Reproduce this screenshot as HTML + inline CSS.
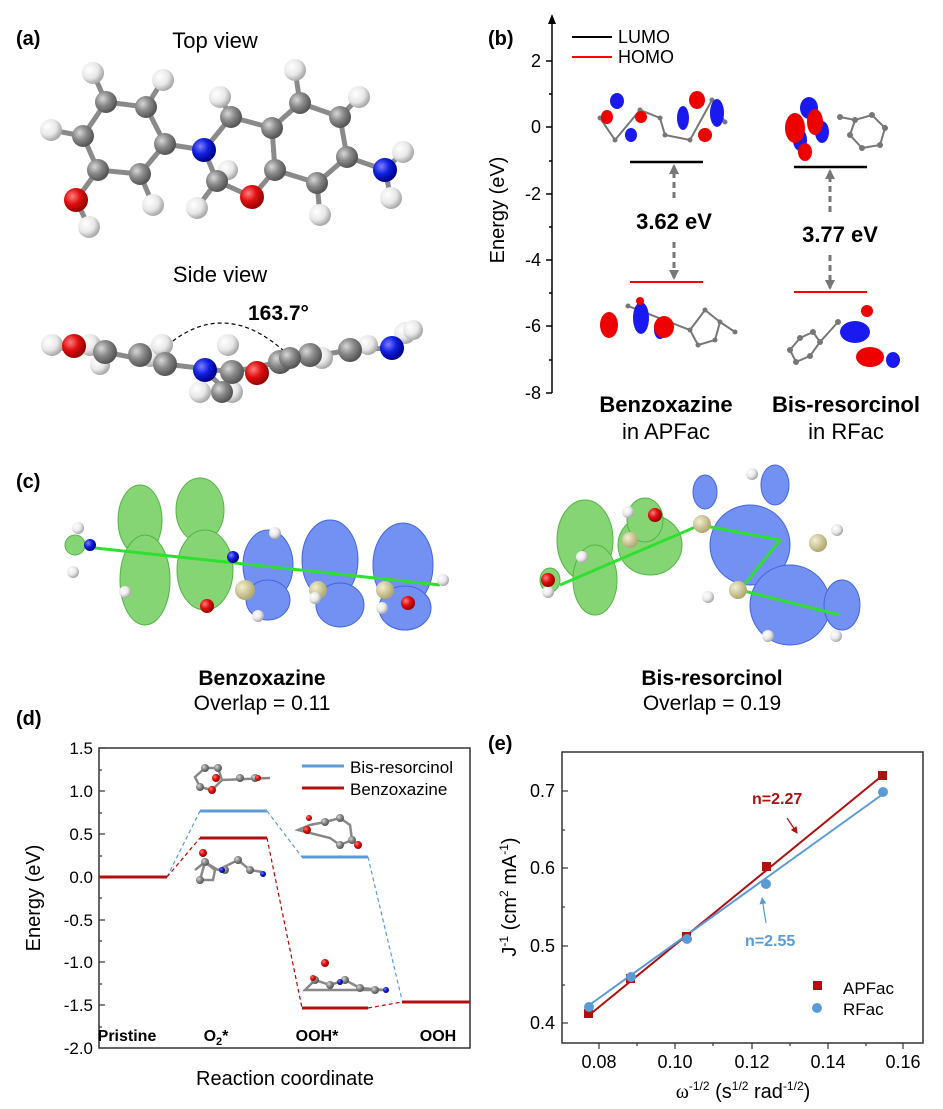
<!DOCTYPE html>
<html><head><meta charset="utf-8"><style>
html,body{margin:0;padding:0;background:#fff;}
svg{display:block;font-family:"Liberation Sans",Arial,sans-serif;}
</style></head><body>
<svg width="943" height="1109" viewBox="0 0 943 1109" xmlns="http://www.w3.org/2000/svg">
<defs>
<radialGradient id="gC" cx="35%" cy="35%" r="65%"><stop offset="0" stop-color="#d8d8d8"/><stop offset="0.5" stop-color="#8a8a8a"/><stop offset="1" stop-color="#555"/></radialGradient>
<radialGradient id="gH" cx="35%" cy="35%" r="65%"><stop offset="0" stop-color="#fff"/><stop offset="0.6" stop-color="#e8e8e8"/><stop offset="1" stop-color="#aaa"/></radialGradient>
<radialGradient id="gO" cx="35%" cy="35%" r="65%"><stop offset="0" stop-color="#ff8080"/><stop offset="0.5" stop-color="#e01010"/><stop offset="1" stop-color="#900"/></radialGradient>
<radialGradient id="gN" cx="35%" cy="35%" r="65%"><stop offset="0" stop-color="#8080ff"/><stop offset="0.5" stop-color="#1020e0"/><stop offset="1" stop-color="#008"/></radialGradient>
<radialGradient id="gY" cx="35%" cy="35%" r="65%"><stop offset="0" stop-color="#f4f0d0"/><stop offset="1" stop-color="#b0a870"/></radialGradient>
<marker id="ag" markerUnits="userSpaceOnUse" markerWidth="10" markerHeight="10" refX="8" refY="5" orient="auto"><path d="M0,0 L10,5 L0,10 z" fill="#777"/></marker>
<marker id="ar" markerUnits="userSpaceOnUse" markerWidth="7" markerHeight="7" refX="6" refY="3.5" orient="auto"><path d="M0,0 L7,3.5 L0,7 z" fill="#b01010"/></marker>
<marker id="ab" markerUnits="userSpaceOnUse" markerWidth="7" markerHeight="7" refX="6" refY="3.5" orient="auto"><path d="M0,0 L7,3.5 L0,7 z" fill="#5b9bd5"/></marker>
</defs>

<!-- (a) -->
<text x="16" y="45" font-size="20" font-weight="bold">(a)</text>
<text x="215" y="48" font-size="22" text-anchor="middle">Top view</text>
<g stroke="#8a8a8a" stroke-width="5" stroke-linecap="round">
<line x1="106" y1="102" x2="146" y2="107"/><line x1="106" y1="102" x2="83" y2="136"/><line x1="83" y1="136" x2="98" y2="170"/>
<line x1="98" y1="170" x2="140" y2="174"/><line x1="140" y1="174" x2="165" y2="144"/><line x1="165" y1="144" x2="146" y2="107"/>
<line x1="165" y1="144" x2="204" y2="150"/><line x1="204" y1="150" x2="231" y2="117"/><line x1="204" y1="150" x2="217" y2="181"/>
<line x1="231" y1="117" x2="272" y2="128"/><line x1="272" y1="128" x2="275" y2="170"/><line x1="275" y1="170" x2="252" y2="197"/>
<line x1="252" y1="197" x2="217" y2="181"/><line x1="272" y1="128" x2="300" y2="103"/><line x1="300" y1="103" x2="340" y2="117"/>
<line x1="340" y1="117" x2="347" y2="157"/><line x1="347" y1="157" x2="317" y2="183"/><line x1="317" y1="183" x2="275" y2="170"/>
<line x1="347" y1="157" x2="385" y2="170"/><line x1="98" y1="170" x2="76" y2="200"/>
<line x1="106" y1="102" x2="93" y2="73"/><line x1="146" y1="107" x2="163" y2="80"/><line x1="83" y1="136" x2="51" y2="130"/>
<line x1="140" y1="174" x2="153" y2="205"/><line x1="76" y1="200" x2="89" y2="227"/><line x1="300" y1="103" x2="295" y2="70"/>
<line x1="340" y1="117" x2="359" y2="97"/><line x1="317" y1="183" x2="320" y2="215"/><line x1="385" y1="170" x2="403" y2="152"/>
<line x1="385" y1="170" x2="391" y2="198"/><line x1="217" y1="181" x2="197" y2="208"/><line x1="231" y1="117" x2="220" y2="97"/>
</g>
<g fill="url(#gH)">
<circle cx="93" cy="73" r="11"/><circle cx="163" cy="80" r="11"/><circle cx="51" cy="130" r="11"/><circle cx="295" cy="70" r="11"/>
<circle cx="359" cy="97" r="11"/><circle cx="89" cy="227" r="11"/><circle cx="153" cy="205" r="11"/><circle cx="197" cy="208" r="11"/>
<circle cx="320" cy="215" r="11"/><circle cx="403" cy="152" r="11"/><circle cx="391" cy="198" r="11"/><circle cx="220" cy="97" r="11"/><circle cx="228" cy="170" r="10"/>
</g>
<g fill="url(#gC)">
<circle cx="106" cy="102" r="11"/><circle cx="146" cy="107" r="11"/><circle cx="83" cy="136" r="11"/><circle cx="98" cy="170" r="11"/>
<circle cx="140" cy="174" r="11"/><circle cx="165" cy="144" r="11"/><circle cx="231" cy="117" r="11"/><circle cx="272" cy="128" r="11"/>
<circle cx="275" cy="170" r="11"/><circle cx="217" cy="181" r="11"/><circle cx="300" cy="103" r="11"/><circle cx="340" cy="117" r="11"/>
<circle cx="347" cy="157" r="11"/><circle cx="317" cy="183" r="11"/>
</g>
<circle cx="76" cy="200" r="12" fill="url(#gO)"/><circle cx="252" cy="197" r="12" fill="url(#gO)"/>
<circle cx="204" cy="150" r="12" fill="url(#gN)"/><circle cx="385" cy="170" r="12" fill="url(#gN)"/>

<text x="220" y="282" font-size="22" text-anchor="middle">Side view</text>
<text x="248" y="320" font-size="21" font-weight="bold">163.7°</text>
<path d="M162,350 Q222,295 285,352" fill="none" stroke="#000" stroke-width="1.2" stroke-dasharray="4,3"/>
<g stroke="#8a8a8a" stroke-width="5"><polyline points="60,348 105,352 165,364 232,372 280,362 350,350 390,348" fill="none"/><line x1="205" y1="370" x2="230" y2="395"/></g>
<g fill="url(#gH)">
<circle cx="52" cy="345" r="11"/><circle cx="90" cy="345" r="11"/><circle cx="150" cy="356" r="11"/><circle cx="162" cy="345" r="11"/>
<circle cx="228" cy="345" r="11"/><circle cx="200" cy="392" r="11"/><circle cx="232" cy="392" r="11"/><circle cx="405" cy="333" r="11"/><circle cx="413" cy="330" r="10"/><circle cx="322" cy="358" r="11"/><circle cx="368" cy="345" r="10"/><circle cx="100" cy="365" r="10"/>
</g>
<g fill="url(#gC)">
<circle cx="105" cy="352" r="12"/><circle cx="140" cy="355" r="12"/><circle cx="165" cy="364" r="12"/><circle cx="232" cy="372" r="12"/>
<circle cx="222" cy="392" r="11"/><circle cx="280" cy="362" r="12"/><circle cx="310" cy="355" r="12"/><circle cx="350" cy="350" r="12"/><circle cx="290" cy="358" r="11"/>
</g>
<circle cx="74" cy="346" r="12" fill="url(#gO)"/><circle cx="257" cy="373" r="12" fill="url(#gO)"/>
<circle cx="205" cy="370" r="12" fill="url(#gN)"/><circle cx="392" cy="348" r="12" fill="url(#gN)"/>

<!-- (b) -->
<text x="488" y="45" font-size="20" font-weight="bold">(b)</text>
<line x1="552" y1="393" x2="552" y2="22" stroke="#000" stroke-width="1.5"/>
<path d="M548,24 L552,14 L556,24 z" fill="#000"/>
<g stroke="#000" stroke-width="1.5">
<line x1="552" y1="61" x2="546" y2="61"/><line x1="552" y1="127" x2="546" y2="127"/><line x1="552" y1="194" x2="546" y2="194"/>
<line x1="552" y1="260" x2="546" y2="260"/><line x1="552" y1="326" x2="546" y2="326"/><line x1="552" y1="393" x2="546" y2="393"/>
<line x1="552" y1="94" x2="549" y2="94"/><line x1="552" y1="161" x2="549" y2="161"/><line x1="552" y1="227" x2="549" y2="227"/>
<line x1="552" y1="293" x2="549" y2="293"/><line x1="552" y1="360" x2="549" y2="360"/>
</g>
<g font-size="18" text-anchor="end">
<text x="541" y="67">2</text><text x="541" y="133">0</text><text x="541" y="200">-2</text><text x="541" y="266">-4</text><text x="541" y="332">-6</text><text x="541" y="399">-8</text>
</g>
<text transform="translate(504,210) rotate(-90)" font-size="20" text-anchor="middle">Energy (eV)</text>
<line x1="572" y1="37" x2="612" y2="37" stroke="#000" stroke-width="2"/><text x="618" y="43" font-size="18">LUMO</text>
<line x1="572" y1="57" x2="612" y2="57" stroke="#f00" stroke-width="2"/><text x="618" y="63" font-size="18">HOMO</text>
<line x1="630" y1="162" x2="703" y2="162" stroke="#000" stroke-width="2.5"/>
<line x1="630" y1="282" x2="703" y2="282" stroke="#f00" stroke-width="2"/>
<line x1="794" y1="167" x2="867" y2="167" stroke="#000" stroke-width="2.5"/>
<line x1="794" y1="292" x2="867" y2="292" stroke="#f00" stroke-width="2"/>
<g stroke="#777" stroke-width="3" stroke-dasharray="6,4">
<line x1="674" y1="198" x2="674" y2="166" marker-end="url(#ag)"/><line x1="674" y1="242" x2="674" y2="278" marker-end="url(#ag)"/>
<line x1="830" y1="212" x2="830" y2="171" marker-end="url(#ag)"/><line x1="830" y1="255" x2="830" y2="288" marker-end="url(#ag)"/>
</g>
<text x="674" y="229" font-size="22" font-weight="bold" text-anchor="middle">3.62 eV</text>
<text x="840" y="242" font-size="22" font-weight="bold" text-anchor="middle">3.77 eV</text>
<!-- orbitals -->
<g fill="#777">
<circle cx="600" cy="118" r="2.5"/><circle cx="615" cy="140" r="2.5"/><circle cx="640" cy="110" r="2.5"/><circle cx="660" cy="118" r="2.5"/><circle cx="665" cy="135" r="2.5"/><circle cx="690" cy="140" r="2.5"/><circle cx="725" cy="122" r="2.5"/><circle cx="712" cy="100" r="2.5"/>
<circle cx="855" cy="120" r="3"/><circle cx="872" cy="115" r="3"/><circle cx="885" cy="128" r="3"/><circle cx="880" cy="145" r="3"/><circle cx="862" cy="148" r="3"/><circle cx="850" cy="135" r="3"/><circle cx="840" cy="117" r="3"/>
<circle cx="705" cy="310" r="2.5"/><circle cx="720" cy="322" r="2.5"/><circle cx="715" cy="340" r="2.5"/><circle cx="698" cy="345" r="2.5"/><circle cx="690" cy="330" r="2.5"/><circle cx="735" cy="332" r="2.5"/><circle cx="628" cy="306" r="2.5"/>
<circle cx="790" cy="350" r="3"/><circle cx="800" cy="338" r="3"/><circle cx="813" cy="332" r="3"/><circle cx="820" cy="342" r="3"/><circle cx="810" cy="356" r="3"/><circle cx="796" cy="362" r="3"/><circle cx="838" cy="322" r="3"/>
</g>
<g stroke="#777" stroke-width="2" fill="none">
<path d="M600,118 L615,140 L640,110 L660,118 L665,135 L690,140 L712,100 L725,122"/>
<path d="M840,117 L855,120 L872,115 L885,128 L880,145 L862,148 L850,135 L855,120"/>
<path d="M628,306 L690,330 L705,310 L720,322 L715,340 L698,345 L690,330 M720,322 L735,332"/>
<path d="M790,350 L800,338 L813,332 L820,342 L810,356 L796,362 L790,350 M820,342 L838,322"/>
</g>
<g fill="#1a1af0"><ellipse cx="617" cy="101" rx="7" ry="8"/><ellipse cx="631" cy="135" rx="6" ry="7"/><ellipse cx="683" cy="118" rx="6" ry="12"/><ellipse cx="717" cy="113" rx="7" ry="14"/>
<ellipse cx="809" cy="108" rx="9" ry="11"/><ellipse cx="800" cy="140" rx="7" ry="11"/><ellipse cx="822" cy="132" rx="7" ry="11"/>
<ellipse cx="641" cy="318" rx="8" ry="16"/><ellipse cx="660" cy="330" rx="6" ry="9"/><ellipse cx="855" cy="332" rx="15" ry="11"/><ellipse cx="893" cy="360" rx="7" ry="8"/></g>
<g fill="#e00"><ellipse cx="607" cy="117" rx="6" ry="7"/><ellipse cx="641" cy="117" rx="6" ry="6"/><ellipse cx="697" cy="100" rx="8" ry="9"/><ellipse cx="705" cy="135" rx="7" ry="7"/>
<ellipse cx="795" cy="128" rx="10" ry="15"/><ellipse cx="815" cy="122" rx="8" ry="13"/><ellipse cx="805" cy="152" rx="7" ry="9"/>
<ellipse cx="609" cy="325" rx="9" ry="13"/><ellipse cx="664" cy="327" rx="10" ry="11"/><ellipse cx="870" cy="357" rx="14" ry="10"/><ellipse cx="867" cy="311" rx="6" ry="6"/><ellipse cx="640" cy="301" rx="4" ry="4"/></g>
<text x="666" y="412" font-size="22" font-weight="bold" text-anchor="middle">Benzoxazine</text>
<text x="666" y="439" font-size="22" text-anchor="middle">in APFac</text>
<text x="846" y="412" font-size="22" font-weight="bold" text-anchor="middle">Bis-resorcinol</text>
<text x="846" y="439" font-size="22" text-anchor="middle">in RFac</text>

<!-- (c) -->
<text x="16" y="488" font-size="20" font-weight="bold">(c)</text>
<g fill="#7fd36e" stroke="#4cb03c" stroke-width="1" opacity="0.95">
<ellipse cx="140" cy="520" rx="22" ry="35"/><ellipse cx="200" cy="510" rx="24" ry="32"/><ellipse cx="145" cy="580" rx="25" ry="45"/><ellipse cx="205" cy="570" rx="28" ry="40"/><ellipse cx="75" cy="545" rx="10" ry="10"/>
<ellipse cx="585" cy="540" rx="28" ry="40"/><ellipse cx="595" cy="580" rx="22" ry="35"/><ellipse cx="650" cy="545" rx="32" ry="30"/><ellipse cx="645" cy="520" rx="18" ry="22"/><ellipse cx="550" cy="580" rx="10" ry="12"/>
</g>
<g fill="#6c8cf2" stroke="#3c5ce0" stroke-width="1" opacity="0.95">
<ellipse cx="268" cy="565" rx="25" ry="35"/><ellipse cx="268" cy="600" rx="22" ry="20"/><ellipse cx="330" cy="560" rx="28" ry="40"/><ellipse cx="340" cy="605" rx="24" ry="22"/>
<ellipse cx="403" cy="565" rx="30" ry="42"/><ellipse cx="405" cy="608" rx="26" ry="22"/>
<ellipse cx="705" cy="492" rx="12" ry="17"/><ellipse cx="775" cy="485" rx="14" ry="20"/><ellipse cx="750" cy="545" rx="40" ry="40"/><ellipse cx="790" cy="605" rx="40" ry="40"/><ellipse cx="842" cy="605" rx="18" ry="25"/>
</g>
<g stroke="#30e030" stroke-width="3"><line x1="95" y1="548" x2="440" y2="585"/><line x1="560" y1="585" x2="700" y2="525"/><line x1="700" y1="525" x2="780" y2="540"/><line x1="780" y1="540" x2="740" y2="590"/><line x1="740" y1="590" x2="840" y2="615"/></g>
<g fill="url(#gY)"><circle cx="245" cy="590" r="10"/><circle cx="318" cy="590" r="9"/><circle cx="385" cy="590" r="9"/><circle cx="702" cy="524" r="9"/><circle cx="818" cy="543" r="9"/><circle cx="738" cy="590" r="9"/><circle cx="630" cy="540" r="8"/></g>
<g fill="url(#gH)"><circle cx="78" cy="528" r="6"/><circle cx="73" cy="572" r="6"/><circle cx="125" cy="592" r="6"/><circle cx="275" cy="533" r="6"/><circle cx="258" cy="616" r="6"/><circle cx="315" cy="598" r="6"/><circle cx="382" cy="608" r="6"/><circle cx="443" cy="580" r="6"/>
<circle cx="628" cy="512" r="6"/><circle cx="582" cy="557" r="6"/><circle cx="752" cy="474" r="6"/><circle cx="837" cy="530" r="6"/><circle cx="708" cy="597" r="6"/><circle cx="768" cy="636" r="6"/><circle cx="836" cy="636" r="6"/><circle cx="548" cy="592" r="6"/></g>
<circle cx="207" cy="606" r="7" fill="url(#gO)"/><circle cx="408" cy="603" r="7" fill="url(#gO)"/><circle cx="548" cy="580" r="7" fill="url(#gO)"/><circle cx="655" cy="515" r="7" fill="url(#gO)"/>
<circle cx="90" cy="545" r="6" fill="url(#gN)"/><circle cx="233" cy="557" r="6" fill="url(#gN)"/>
<text x="262" y="685" font-size="21" font-weight="bold" text-anchor="middle">Benzoxazine</text>
<text x="262" y="710" font-size="21" text-anchor="middle">Overlap = 0.11</text>
<text x="712" y="685" font-size="21" font-weight="bold" text-anchor="middle">Bis-resorcinol</text>
<text x="712" y="710" font-size="21" text-anchor="middle">Overlap = 0.19</text>

<!-- (d) -->
<text x="16" y="725" font-size="20" font-weight="bold">(d)</text>
<rect x="99" y="748" width="371" height="300" fill="none" stroke="#333" stroke-width="1.5"/>
<g stroke="#333" stroke-width="1.2">
<line x1="99" y1="748" x2="105" y2="748"/><line x1="99" y1="791" x2="105" y2="791"/><line x1="99" y1="834" x2="105" y2="834"/><line x1="99" y1="877" x2="105" y2="877"/>
<line x1="99" y1="920" x2="105" y2="920"/><line x1="99" y1="962" x2="105" y2="962"/><line x1="99" y1="1005" x2="105" y2="1005"/>
<line x1="99" y1="770" x2="102" y2="770"/><line x1="99" y1="813" x2="102" y2="813"/><line x1="99" y1="856" x2="102" y2="856"/><line x1="99" y1="898" x2="102" y2="898"/>
<line x1="99" y1="941" x2="102" y2="941"/><line x1="99" y1="984" x2="102" y2="984"/><line x1="99" y1="1027" x2="102" y2="1027"/>
</g>
<g font-size="17" text-anchor="end">
<text x="93" y="754">1.5</text><text x="93" y="797">1.0</text><text x="93" y="840">0.5</text><text x="93" y="883">0.0</text>
<text x="93" y="926">-0.5</text><text x="93" y="968">-1.0</text><text x="93" y="1011">-1.5</text><text x="93" y="1054">-2.0</text>
</g>
<text transform="translate(40,898) rotate(-90)" font-size="20" text-anchor="middle">Energy (eV)</text>
<text x="285" y="1085" font-size="20" text-anchor="middle">Reaction coordinate</text>
<g stroke-width="1.2" stroke-dasharray="4,3" fill="none">
<path d="M167,877 L200,811 M267,811 L302,857 M368,857 L402,1000" stroke="#5b9bd5"/>
<path d="M167,877 L200,838 M267,838 L302,1008 M368,1008 L402,1002" stroke="#c00000"/>
</g>
<g stroke-width="3">
<line x1="99" y1="877" x2="167" y2="877" stroke="#b01010"/>
<line x1="200" y1="811" x2="267" y2="811" stroke="#5b9bd5"/>
<line x1="200" y1="838" x2="267" y2="838" stroke="#b01010"/>
<line x1="302" y1="857" x2="368" y2="857" stroke="#5b9bd5"/>
<line x1="302" y1="1008" x2="368" y2="1008" stroke="#b01010"/>
<line x1="402" y1="1002" x2="470" y2="1002" stroke="#b01010"/>
<line x1="302" y1="766" x2="344" y2="766" stroke="#5b9bd5"/>
<line x1="302" y1="788" x2="344" y2="788" stroke="#b01010"/>
</g>
<text x="350" y="773" font-size="17">Bis-resorcinol</text>
<text x="350" y="795" font-size="17">Benzoxazine</text>
<g font-size="16" font-weight="bold" text-anchor="middle">
<text x="127" y="1041">Pristine</text><text x="216" y="1041">O<tspan font-size="11" dy="4">2</tspan><tspan dy="-4">*</tspan></text><text x="317" y="1041">OOH*</text><text x="438" y="1041">OOH</text>
</g>
<!-- small molecules in d -->
<g stroke="#888" stroke-width="2.5" fill="none">
<path d="M195,777 L205,768 L218,768 L222,780 L212,790 L200,787 z M222,780 L270,778"/>
<path d="M195,870 L205,862 L218,870 L238,860 L250,870 L262,872 M205,862 L215,870 L213,880 L200,880 z"/>
<path d="M298,830 L310,825 L325,822 L340,818 L350,825 L352,840 L340,845 L330,838 z"/>
<path d="M305,990 L315,980 L330,985 L345,980 L360,988 L385,990 L320,990 z"/>
</g>
<g fill="url(#gC)"><circle cx="205" cy="768" r="4"/><circle cx="218" cy="768" r="4"/><circle cx="200" cy="787" r="4"/><circle cx="240" cy="778" r="4"/><circle cx="255" cy="778" r="4"/>
<circle cx="205" cy="862" r="4"/><circle cx="200" cy="880" r="4"/><circle cx="238" cy="860" r="4"/><circle cx="250" cy="870" r="4"/><circle cx="225" cy="870" r="4"/>
<circle cx="325" cy="822" r="4"/><circle cx="340" cy="818" r="4"/><circle cx="352" cy="840" r="4"/><circle cx="340" cy="845" r="4"/>
<circle cx="315" cy="980" r="4"/><circle cx="330" cy="985" r="4"/><circle cx="345" cy="980" r="4"/><circle cx="360" cy="988" r="4"/><circle cx="375" cy="990" r="4"/></g>
<g fill="url(#gO)"><circle cx="212" cy="790" r="4"/><circle cx="216" cy="778" r="4"/><circle cx="258" cy="778" r="3"/><circle cx="203" cy="853" r="4"/><circle cx="307" cy="830" r="4"/><circle cx="309" cy="818" r="3"/><circle cx="358" cy="845" r="4"/><circle cx="325" cy="963" r="4"/><circle cx="313" cy="978" r="3"/></g>
<g fill="url(#gN)"><circle cx="222" cy="870" r="3"/><circle cx="263" cy="874" r="3"/><circle cx="340" cy="982" r="3"/><circle cx="386" cy="990" r="3"/></g>

<!-- (e) -->
<text x="488" y="750" font-size="20" font-weight="bold">(e)</text>
<rect x="562" y="752" width="361" height="291" fill="none" stroke="#333" stroke-width="1.5"/>
<g stroke="#333" stroke-width="1.2">
<line x1="562" y1="791" x2="568" y2="791"/><line x1="562" y1="868" x2="568" y2="868"/><line x1="562" y1="946" x2="568" y2="946"/><line x1="562" y1="1023" x2="568" y2="1023"/>
<line x1="562" y1="830" x2="565" y2="830"/><line x1="562" y1="907" x2="565" y2="907"/><line x1="562" y1="985" x2="565" y2="985"/>
<line x1="599" y1="1043" x2="599" y2="1049"/><line x1="675" y1="1043" x2="675" y2="1049"/><line x1="752" y1="1043" x2="752" y2="1049"/><line x1="828" y1="1043" x2="828" y2="1049"/><line x1="903" y1="1043" x2="903" y2="1049"/>
<line x1="637" y1="1043" x2="637" y2="1046"/><line x1="713" y1="1043" x2="713" y2="1046"/><line x1="790" y1="1043" x2="790" y2="1046"/><line x1="866" y1="1043" x2="866" y2="1046"/>
</g>
<g font-size="18" text-anchor="end"><text x="555" y="797">0.7</text><text x="555" y="874">0.6</text><text x="555" y="952">0.5</text><text x="555" y="1029">0.4</text></g>
<g font-size="18" text-anchor="middle"><text x="599" y="1068">0.08</text><text x="675" y="1068">0.10</text><text x="752" y="1068">0.12</text><text x="828" y="1068">0.14</text><text x="903" y="1068">0.16</text></g>
<text transform="translate(516,897) rotate(-90)" font-size="20" text-anchor="middle">J<tspan font-size="12" dy="-8">-1</tspan><tspan dy="8"> (cm</tspan><tspan font-size="12" dy="-8">2</tspan><tspan dy="8"> mA</tspan><tspan font-size="12" dy="-8">-1</tspan><tspan dy="8">)</tspan></text>
<text x="743" y="1098" font-size="20" text-anchor="middle"><tspan font-family="Liberation Serif">ω</tspan><tspan font-size="12" dy="-8">-1/2</tspan><tspan dy="8"> (s</tspan><tspan font-size="12" dy="-8">1/2</tspan><tspan dy="8"> rad</tspan><tspan font-size="12" dy="-8">-1/2</tspan><tspan dy="8">)</tspan></text>
<line x1="588" y1="1016" x2="883" y2="775" stroke="#b01010" stroke-width="2"/>
<line x1="588" y1="1006" x2="883" y2="794" stroke="#5b9bd5" stroke-width="2"/>
<g fill="#b01010"><rect x="584" y="1009" width="9" height="9"/><rect x="626" y="974" width="9" height="9"/><rect x="682" y="932" width="9" height="9"/><rect x="762" y="862" width="9" height="9"/><rect x="878" y="771" width="9" height="9"/><rect x="813" y="981" width="9" height="9"/></g>
<g fill="#5b9bd5"><circle cx="589" cy="1007" r="5"/><circle cx="631" cy="977" r="5"/><circle cx="687" cy="939" r="5"/><circle cx="766" cy="884" r="5"/><circle cx="883" cy="792" r="5"/><circle cx="817" cy="1008" r="5"/></g>
<text x="843" y="994" font-size="17">APFac</text>
<text x="843" y="1015" font-size="17">RFac</text>
<text x="752" y="804" font-size="16" font-weight="bold" fill="#b01010">n=2.27</text>
<line x1="787" y1="818" x2="797" y2="833" stroke="#b01010" stroke-width="1.2" marker-end="url(#ar)"/>
<text x="745" y="946" font-size="16" font-weight="bold" fill="#5b9bd5">n=2.55</text>
<line x1="766" y1="923" x2="762" y2="898" stroke="#5b9bd5" stroke-width="1.2" marker-end="url(#ab)"/>
</svg>
</body></html>
